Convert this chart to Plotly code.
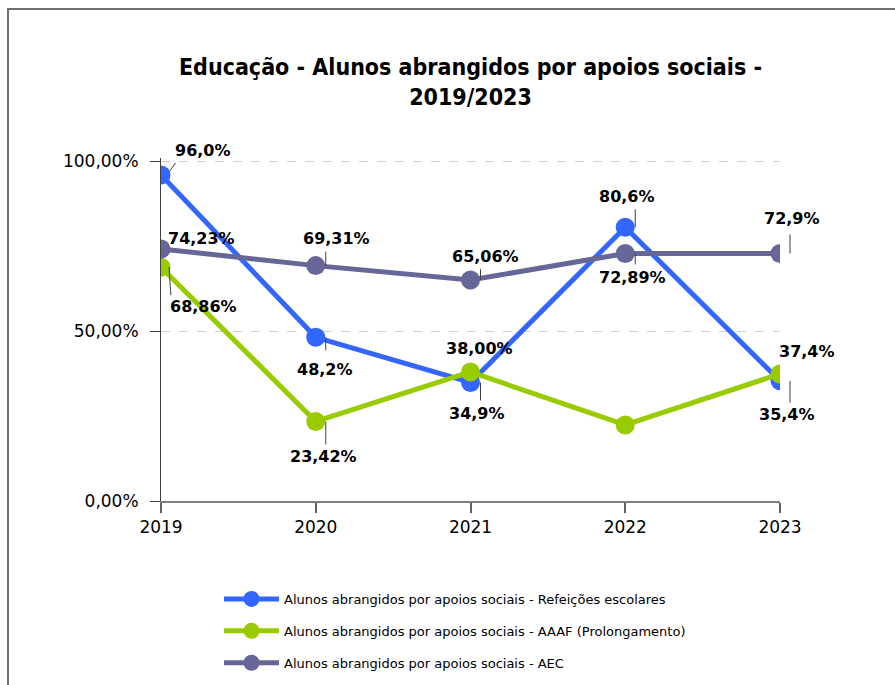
import plotly.graph_objects as go

years = [2019, 2020, 2021, 2022, 2023]
refeicoes = [96.0, 48.2, 34.9, 80.6, 35.4]
aaaf = [68.86, 23.42, 38.00, 22.4, 37.4]
aec = [74.23, 69.31, 65.06, 72.89, 72.9]

names = [
    "Alunos abrangidos por apoios sociais - Refeições escolares",
    "Alunos abrangidos por apoios sociais - AAAF (Prolongamento)",
    "Alunos abrangidos por apoios sociais - AEC",
]
series = [refeicoes, aaaf, aec]
colors = ["#3366FF", "#99CC00", "#666699"]
# label decimals per point (None = no label)
decimals = [
    [1, 1, 1, 1, 1],
    [2, 2, 2, None, 1],
    [2, 2, 2, 2, 1],
]
# label text offsets from the marker in pixels (dx right, dy down)
offsets = [
    [(42, -24), (9, 32), (6, 31), (2, -31), (7, 34)],
    [(42, 39), (8, 35), (9, -23), None, (27, -22)],
    [(40, -10), (21, -27), (15, -24), (7, 24), (12, -35)],
]
# leader lines (pixel offsets from the marker, y up): x0, y0, x1, y1
leaders = [
    [(8, 3, 16, 14), (10, 0, 10, -15), (10, 0, 10, -20), (10, 0, 10, 20), (10, 0, 10, -24)],
    [(8, 0, 10, -30), (10, 0, 10, -25), None, None, None],
    [None, (10, 0, 10, 16), (10, 0, 10, 13), (10, 0, 10, -13), (10, 0, 10, 21)],
]

W, H = 895, 685
YMAX = 101
px_per = 340 / 100
L, R = 161, 115
B = H - 501
T = int(round(501 - YMAX * px_per))
pw, ph = W - L - R, H - T - B
bottom = T + ph
XMIN, XMAX = years[0], years[-1]

fig = go.Figure()
for i, (nm, vals, col) in enumerate(zip(names, series, colors)):
    fig.add_trace(go.Scatter(
        x=years, y=vals, name=nm, mode="lines+markers",
        line=dict(color=col, width=5),
        marker=dict(color=col, size=19),
        legendgroup=str(i),
    ))

annotations = []
shapes = [dict(
    type="rect", xref="paper", yref="paper",
    x0=(8 - L) / pw, x1=(W + 20 - L) / pw,
    y0=-(H + 20 - bottom) / ph, y1=(bottom - 9) / ph,
    line=dict(color="#707070", width=2), fillcolor="rgba(0,0,0,0)", layer="below",
)]
for s, vals in enumerate(series):
    for j, v in enumerate(vals):
        d = decimals[s][j]
        if d is None:
            continue
        txt = f"{v:.{d}f}".replace(".", ",") + "%"
        dx, dy = offsets[s][j]
        annotations.append(dict(
            x=years[j], y=v, xref="x", yref="y", text=txt,
            showarrow=False, xshift=dx, yshift=-dy,
            font=dict(family="DejaVu Sans", size=16, color="#000000", weight="bold"),
        ))
        ld = leaders[s][j]
        if ld is not None:
            annotations.append(dict(
                x=years[j], y=v, xref="x", yref="y", text=" ",
                showarrow=True, arrowhead=0, arrowwidth=1, arrowcolor="#404040",
                standoff=0, xshift=ld[0], yshift=ld[1],
                ax=ld[2] - ld[0], ay=-(ld[3] - ld[1]),
                font=dict(size=1, color="rgba(0,0,0,0)"),
            ))

fig.update_layout(
    width=W, height=H,
    margin=dict(l=L, r=R, t=T, b=B, autoexpand=False),
    paper_bgcolor="white", plot_bgcolor="white",
    title=dict(
        text="Educação - Alunos abrangidos por apoios sociais -<br>2019/2023",
        x=0.5, xref="paper", xanchor="center", y=1 - 75 / H, yanchor="top",
        font=dict(family="DejaVu Sans Condensed", size=23, color="#000000", weight="bold"),
    ),
    xaxis=dict(
        range=[XMIN, XMAX], tickvals=years, ticktext=[str(y) for y in years],
        showgrid=False, zeroline=False, showline=True, linecolor="#808080", linewidth=2,
        ticks="outside", ticklen=10, tickcolor="#606060", tickwidth=2,
        tickfont=dict(family="DejaVu Sans", size=17, color="#000000"),
    ),
    yaxis=dict(
        range=[0, YMAX], tickvals=[0, 50, 100], ticktext=["0,00%", "50,00%", "100,00%"],
        showgrid=True, gridcolor="#D0D0D0", griddash="dash", gridwidth=1,
        zeroline=False, showline=True, linecolor="#404040", linewidth=1,
        ticks="outside", ticklen=10, tickcolor="#404040", ticklabelstandoff=8,
        tickfont=dict(family="DejaVu Sans", size=17, color="#000000"),
    ),
    legend=dict(
        x=(219 - L) / pw, y=-(584 - bottom) / ph, xanchor="left", yanchor="top",
        font=dict(family="DejaVu Sans", size=13, color="#000000"),
        tracegroupgap=12, bgcolor="rgba(0,0,0,0)", itemwidth=55,
    ),
    showlegend=True,
    annotations=annotations,
    shapes=shapes,
)

fig.write_html(
    "out.html",
    config={"displayModeBar": False},
    post_script="document.body.style.margin='0';document.body.style.overflow='hidden';",
)
